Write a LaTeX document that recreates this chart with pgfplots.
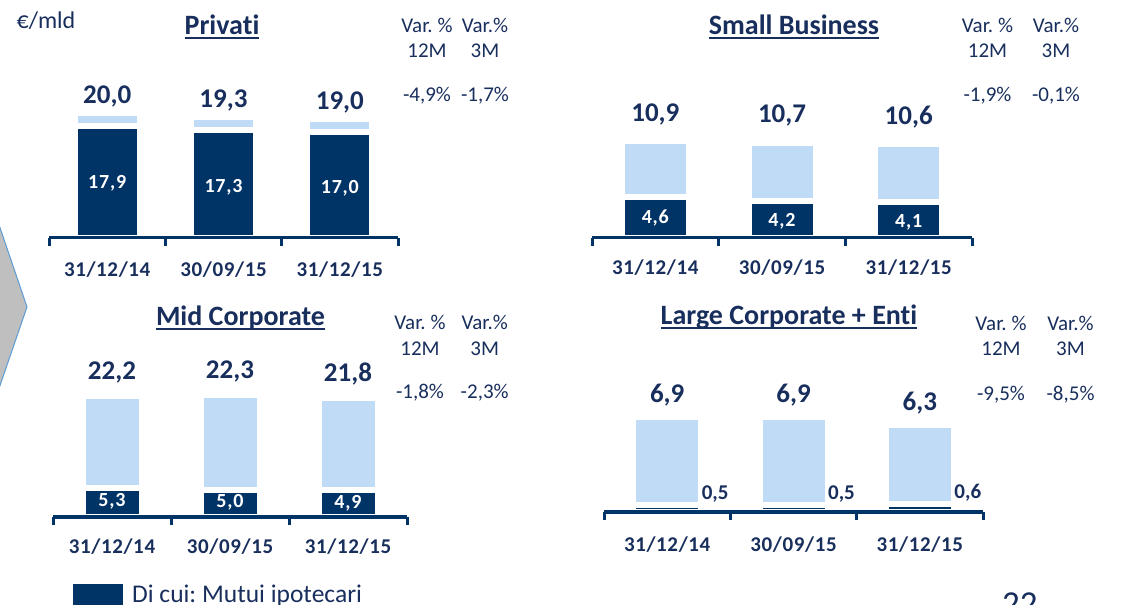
\documentclass[border=0pt]{standalone}
\usepackage{fontspec}
\setmainfont{Carlito}[Ligatures=NoCommon]
\usepackage{pgfplots}
\pgfplotsset{compat=1.18}
\frenchspacing
\definecolor{dk}{RGB}{0,51,102}
\definecolor{lt}{RGB}{192,219,246}
\definecolor{tx}{RGB}{24,46,92}
\definecolor{chev}{RGB}{191,191,191}
\definecolor{chevb}{RGB}{91,155,213}
\newcommand\fs[1]{\fontsize{#1bp}{#1bp}\selectfont}
\newcommand\ul[1]{\setbox0\hbox{#1}\rlap{\rule[-4bp]{\wd0}{2bp}}\box0}
\pgfplotsset{
 panel/.style={
  scale only axis, clip=false,
  xmin=-0.5, xmax=2.5, ymin=0,
  axis y line=none, axis x line*=bottom,
  x axis line style={-, dk, line width=3bp},
  xtick={-0.5,0.5,1.5,2.5}, xticklabels={,,,},
  tick align=outside, major tick length=8bp,
  x tick style={dk, line width=3bp},
  extra x ticks={0,1,2},
  extra x tick labels={31/12/14,30/09/15,31/12/15},
  extra x tick style={major tick length=0pt},
  xticklabel style={font=\fs{21}\bfseries\addfontfeatures{LetterSpace=3}, text=tx, anchor=center},
  axis on top,
  ybar, bar shift=0pt,
  /pgf/number format/assume math mode=true,
  /pgf/number format/use comma,
  /pgf/number format/fixed,
  /pgf/number format/fixed zerofill,
  /pgf/number format/precision=1,
 },
 lightbar/.style={fill=lt, draw=white, line width=6bp,
  nodes near coords,
  every node near coord/.append style={anchor=center, font=\fs{27}\bfseries, text=tx, yshift=#1}},
 darkbar/.style={fill=dk, draw=white, line width=6bp,
  nodes near coords,
  every node near coord/.append style={anchor=center, font=\fs{20}\bfseries\addfontfeatures{LetterSpace=4}, text=white, yshift=#1}},
}
\begin{document}
\begin{tikzpicture}
\path[use as bounding box] (0,0) rectangle (1142bp,605bp);
\clip (0,0) rectangle (1142bp,605bp);
% decorative chevron
\filldraw[fill=chev, draw=chevb, line width=1bp] (-5bp,392bp) -- (27bp,298bp) -- (-5bp,205bp);

% Panel 1: Privati
\begin{axis}[panel, at={(49bp,367bp)}, anchor=south west,
  width=349bp, height=125bp, ymax=20, bar width=65bp,
  xticklabel style={yshift=-32bp}]
\addplot[lightbar=17bp] coordinates {(0,20.0) (1,19.3) (2,19.0)};
\addplot[darkbar=-57bp] coordinates {(0,17.9) (1,17.3) (2,17.0)};
\end{axis}

% Panel 2: Small Business
\begin{axis}[panel, at={(592bp,367bp)}, anchor=south west,
  width=380bp, height=97bp, ymax=10.9, bar width=67bp,
  xticklabel style={yshift=-30bp}]
\addplot[lightbar=27bp] coordinates {(0,10.9) (1,10.7) (2,10.6)};
\addplot[darkbar=-21bp] coordinates {(0,4.6) (1,4.2) (2,4.1)};
\end{axis}

% Panel 3: Mid Corporate
\begin{axis}[panel, at={(53bp,88bp)}, anchor=south west,
  width=354bp, height=121.5bp, ymax=22.3, bar width=59bp,
  xticklabel style={yshift=-30bp}]
\addplot[lightbar=24bp] coordinates {(0,22.2) (1,22.3) (2,21.8)};
\addplot[darkbar=-13bp] coordinates {(0,5.3) (1,5.0) (2,4.9)};
\end{axis}

% Panel 4: Large Corporate + Enti
\begin{axis}[panel, at={(604bp,93bp)}, anchor=south west,
  width=379bp, height=95bp, ymax=6.9, bar width=68bp,
  xticklabel style={yshift=-33bp}]
\addplot[lightbar=22bp] coordinates {(0,6.9) (1,6.9) (2,6.3)};
\addplot[fill=dk, draw=white, line width=6bp, nodes near coords,
  every node near coord/.append style={anchor=center, font=\fs{21}\bfseries, text=tx, xshift=48bp, yshift=11bp}]
  coordinates {(0,0.5) (1,0.5) (2,0.6)};
\end{axis}

% texts
\node[font=\fs{24}, text=tx] at (46bp,584bp) {€/mld};
\node[font=\fs{28}\bfseries, text=tx, anchor=base] at (222bp,570bp) {\ul{Privati}};
\node[font=\fs{28}\bfseries, text=tx, anchor=base] at (794bp,570bp) {\ul{Small Business}};
\node[font=\fs{28}\bfseries, text=tx, anchor=base] at (240.5bp,279bp) {\ul{Mid Corporate}};
\node[font=\fs{28}\bfseries, text=tx, anchor=base] at (789bp,280bp) {\ul{Large Corporate + Enti}};

\begin{scope}[every node/.style={font=\fs{21}, text=tx}]
\node at (427bp,580bp) {Var. \%};  \node at (485bp,580bp) {Var.\%};
\node at (427bp,554bp) {12M};      \node at (485bp,554bp) {3M};
\node at (427bp,509bp) {-4,9\%};   \node at (485bp,509bp) {-1,7\%};

\node at (987.5bp,580bp) {Var. \%}; \node at (1056bp,580bp) {Var.\%};
\node at (987.5bp,554bp) {12M};     \node at (1056bp,554bp) {3M};
\node at (987.5bp,509bp) {-1,9\%};  \node at (1056bp,509bp) {-0,1\%};

\node at (420bp,283bp) {Var. \%};  \node at (484.7bp,283bp) {Var.\%};
\node at (420bp,256bp) {12M};      \node at (484.7bp,256bp) {3M};
\node at (420bp,212bp) {-1,8\%};   \node at (484.7bp,212bp) {-2,3\%};

\node at (1001bp,282bp) {Var. \%}; \node at (1070.5bp,282bp) {Var.\%};
\node at (1001bp,256bp) {12M};     \node at (1070.5bp,256bp) {3M};
\node at (1001bp,210bp) {-9,5\%};  \node at (1070.5bp,210bp) {-8,5\%};
\end{scope}

% legend
\fill[dk] (73bp,-2bp) rectangle (123bp,21bp);
\node[font=\fs{25.5}, text=tx, anchor=base west, inner sep=0pt] at (132bp,3bp) {Di cui: Mutui ipotecari};
% page number
\node[font=\fs{35}, text=tx, anchor=base west, inner sep=0pt] at (1002bp,-10bp) {22};
\end{tikzpicture}
\end{document}
